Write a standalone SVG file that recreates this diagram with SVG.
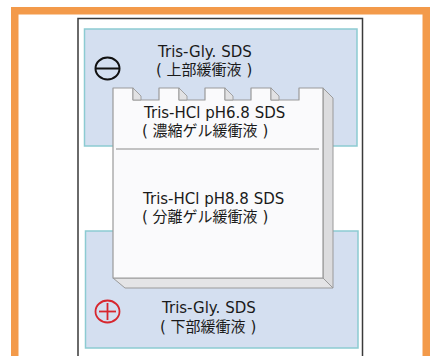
<svg xmlns="http://www.w3.org/2000/svg" width="431" height="356" viewBox="0 0 431 356">
  <style>
    .frame { fill: none; stroke: #F39A4A; stroke-width: 7.5; }
    .panel { fill: #FFFFFF; stroke: #3A3A3A; stroke-width: 1.5; }
    .buffer { fill: #D4DFF0; stroke: #8CCBD2; stroke-width: 1.5; }
    .gel-front { fill: #FAFAFC; stroke: #9A9A9A; stroke-width: 1.2; stroke-linejoin: round; }
    .gel-side { fill: #DCDCDE; stroke: #9A9A9A; stroke-width: 1; stroke-linejoin: round; }
    .gel-bottom { fill: #E4E4E6; stroke: #9A9A9A; stroke-width: 1; stroke-linejoin: round; }
    .tooth-side { fill: #E2E2E4; stroke: #9A9A9A; stroke-width: 0.9; stroke-linejoin: round; }
    .divider { stroke: #8A8A8A; stroke-width: 1; }
    .lbl { font-family: "DejaVu Sans", "Noto Sans CJK JP", sans-serif; font-size: 15px; fill: #1A1A1A; }
    .pole-neg { fill: none; stroke: #111111; stroke-width: 2; }
    .pole-pos { fill: none; stroke: #D7262E; stroke-width: 1.8; }
  </style>

  <!-- outer frame -->
  <rect class="frame" x="14.75" y="10.75" width="411.5" height="360"/>

  <!-- tank panel -->
  <rect class="panel" x="78" y="18.5" width="284.5" height="350"/>

  <!-- upper buffer -->
  <g id="upper-buffer">
    <rect class="buffer" x="84.5" y="29" width="272.5" height="117"/>
    <ellipse class="pole-neg" cx="107.5" cy="68.5" rx="12" ry="11"/>
    <line class="pole-neg" x1="96" y1="68.5" x2="119" y2="68.5"/>
    <text class="lbl" x="158" y="57">Tris-Gly. SDS</text>
    <text class="lbl" x="156" y="75">( 上部緩衝液 )</text>
  </g>

  <!-- lower buffer -->
  <g id="lower-buffer">
    <rect class="buffer" x="85.5" y="231" width="272.5" height="117"/>
    <ellipse class="pole-pos" cx="107.5" cy="311.5" rx="12" ry="11"/>
    <line class="pole-pos" x1="99" y1="311.5" x2="116" y2="311.5"/>
    <line class="pole-pos" x1="107.5" y1="303" x2="107.5" y2="320"/>
    <text class="lbl" x="162" y="313">Tris-Gly. SDS</text>
    <text class="lbl" x="160" y="332">( 下部緩衝液 )</text>
  </g>

  <!-- gel slab: front face with comb wells, right and bottom bevels -->
  <g id="gel">
    <polygon class="gel-side" points="323,88 333,98 333,288 323,278"/>
    <polygon class="gel-bottom" points="113,278 323,278 333,288 125,288"/>
    <path class="gel-front" d="M113,278 V88 H133 V100 H159 V88 H179 V100 H205 V88 H225 V100 H251 V88 H271 V100 H299 V88 H323 V278 Z"/>
    <polygon class="tooth-side" points="133,88 141,96 141,100 133,100"/>
    <polygon class="tooth-side" points="179,88 187,96 187,100 179,100"/>
    <polygon class="tooth-side" points="225,88 233,96 233,100 225,100"/>
    <polygon class="tooth-side" points="271,88 279,96 279,100 271,100"/>
    <line class="divider" x1="116" y1="149" x2="319" y2="149"/>
  </g>

  <g id="stacking-gel">
    <text class="lbl" x="144" y="118">Tris-HCl pH6.8 SDS</text>
    <text class="lbl" x="142" y="136">( 濃縮ゲル緩衝液 )</text>
  </g>

  <g id="separating-gel">
    <text class="lbl" x="143" y="204">Tris-HCl pH8.8 SDS</text>
    <text class="lbl" x="142" y="222">( 分離ゲル緩衝液 )</text>
  </g>

  <g id="connectors"></g>
</svg>
